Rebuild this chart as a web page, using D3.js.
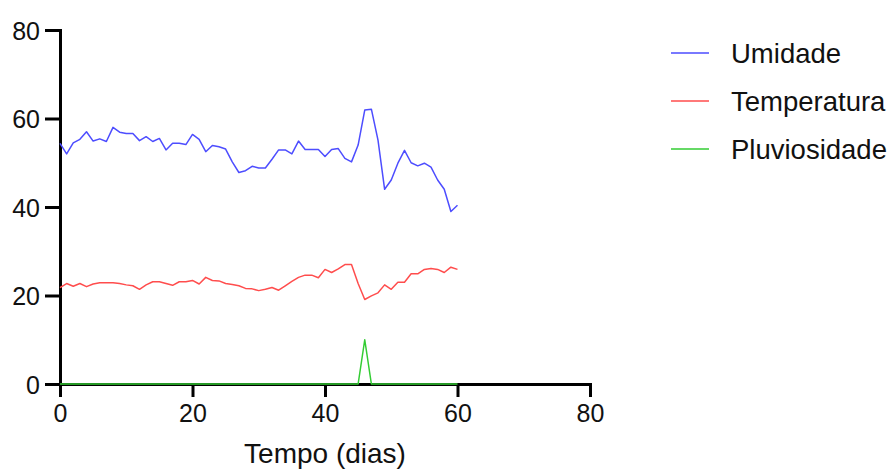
<!DOCTYPE html>
<html>
<head>
<meta charset="utf-8">
<script src="https://cdn.jsdelivr.net/npm/d3@7"></script>
<style>
  html, body { margin: 0; padding: 0; background: #fff; }
  svg { display: block; font-family: "Liberation Sans", Arial, sans-serif; }
</style>
</head>
<body>
<svg id="chart" width="893" height="475"></svg>
<script>
// Daily readings, day 0 to day 60
const days = d3.range(0, 61);

const umidade = [
  54.4, 52.0, 54.5, 55.3, 57.0, 54.9, 55.4, 54.8, 58.0, 56.9,
  56.6, 56.6, 55.0, 55.9, 54.8, 55.5, 52.9, 54.4, 54.4, 54.1,
  56.4, 55.3, 52.5, 53.9, 53.6, 53.1, 50.2, 47.8, 48.2, 49.2,
  48.8, 48.8, 50.8, 52.9, 52.9, 52.0, 54.9, 53.0, 53.0, 53.0,
  51.4, 53.0, 53.2, 51.0, 50.2, 54.0, 61.9, 62.1, 55.1, 44.0,
  46.1, 49.9, 52.8, 50.0, 49.3, 49.9, 49.0, 46.1, 44.0, 39.0,
  40.4
];

const temperatura = [
  21.8, 22.7, 22.1, 22.7, 22.0, 22.6, 22.9, 22.9, 22.9, 22.7,
  22.4, 22.2, 21.4, 22.4, 23.1, 23.1, 22.7, 22.3, 23.1, 23.1,
  23.4, 22.6, 24.1, 23.4, 23.3, 22.7, 22.5, 22.2, 21.6, 21.5,
  21.1, 21.4, 21.8, 21.2, 22.2, 23.2, 24.1, 24.6, 24.6, 24.0,
  25.9, 25.2, 26.0, 27.0, 27.0, 22.7, 19.1, 19.9, 20.6, 22.4,
  21.4, 23.0, 23.0, 24.9, 24.9, 25.9, 26.1, 25.9, 25.2, 26.4,
  25.9
];

const pluviosidade = [
  0, 0, 0, 0, 0, 0, 0, 0, 0, 0,
  0, 0, 0, 0, 0, 0, 0, 0, 0, 0,
  0, 0, 0, 0, 0, 0, 0, 0, 0, 0,
  0, 0, 0, 0, 0, 0, 0, 0, 0, 0,
  0, 0, 0, 0, 0, 0, 10, 0, 0, 0,
  0, 0, 0, 0, 0, 0, 0, 0, 0, 0,
  0
];

const seriesNames = ["Umidade", "Temperatura", "Pluviosidade"];
const seriesColors = ["#4d4dff", "#ff4d4d", "#33cc33"];
const xTicks = [0, 20, 40, 60, 80];
const yTicks = [0, 20, 40, 60, 80];
const xTitle = "Tempo (dias)";

const svg = d3.select("#chart");

const x = d3.scaleLinear().domain([0, 80]).range([60, 590]);
const y = d3.scaleLinear().domain([0, 80]).range([384, 30]);

// Axes
const xAxis = svg.append("g")
  .attr("transform", `translate(0,${y(0)})`)
  .call(d3.axisBottom(x).tickValues(xTicks).tickSize(13).tickPadding(6).tickSizeOuter(0));

const yAxis = svg.append("g")
  .attr("transform", `translate(${x(0)},0)`)
  .call(d3.axisLeft(y).tickValues(yTicks).tickSize(15).tickPadding(5).tickSizeOuter(0));

[xAxis, yAxis].forEach(g => {
  g.select(".domain").attr("stroke", "#000").attr("stroke-width", 3)
    .attr("stroke-linecap", "square");
  g.selectAll(".tick line").attr("stroke", "#000").attr("stroke-width", 3);
  g.selectAll(".tick text")
    .attr("fill", "#111")
    .style("font-family", "'Liberation Sans', Arial, sans-serif")
    .style("font-size", "25px");
});
yAxis.selectAll(".tick text").attr("dy", "0.36em");
xAxis.selectAll(".tick text").attr("dy", "0.74em");

// Axis title
svg.append("text")
  .attr("x", x(40))
  .attr("y", 463)
  .attr("text-anchor", "middle")
  .attr("fill", "#111")
  .style("font-size", "28px")
  .text(xTitle);

// Series lines
const allSeries = [umidade, temperatura, pluviosidade];
const line = d3.line()
  .x((d, i) => x(days[i]))
  .y(d => y(d));

allSeries.forEach((vals, k) => {
  svg.append("path")
    .datum(vals)
    .attr("fill", "none")
    .attr("stroke", seriesColors[k])
    .attr("stroke-width", 1.5)
    .attr("stroke-linejoin", "round")
    .attr("d", line);
});

// Legend
const legend = svg.append("g");
seriesNames.forEach((name, k) => {
  const cy = 53 + k * 48;
  legend.append("line")
    .attr("x1", 671).attr("x2", 709)
    .attr("y1", cy).attr("y2", cy)
    .attr("stroke", seriesColors[k])
    .attr("stroke-width", 1.5);
  legend.append("text")
    .attr("x", 731)
    .attr("y", cy + 10)
    .attr("fill", "#111")
    .style("font-size", "27.5px")
    .text(name);
});
</script>
</body>
</html>
